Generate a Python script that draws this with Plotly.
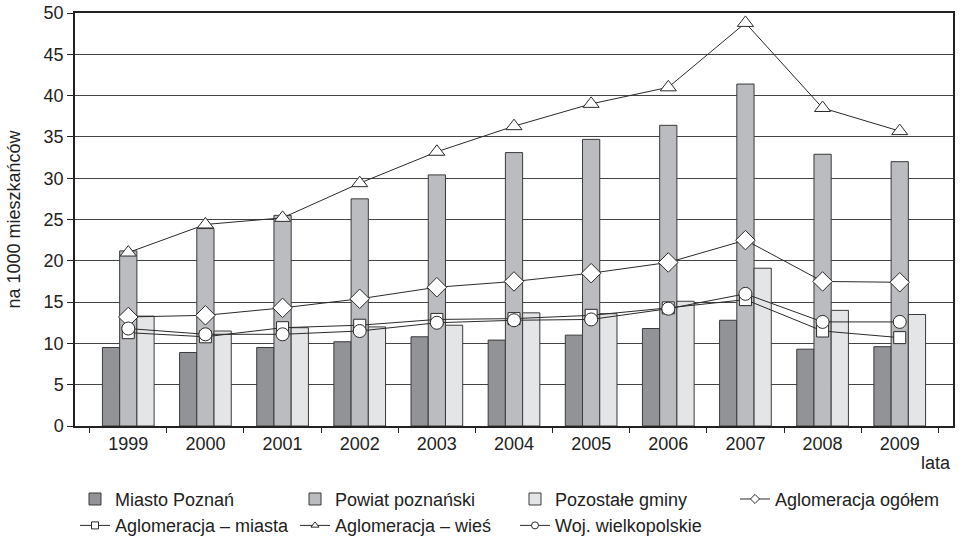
import plotly.graph_objects as go

years = ["1999", "2000", "2001", "2002", "2003", "2004", "2005", "2006", "2007", "2008", "2009"]

miasto_poznan = [9.5, 8.9, 9.5, 10.2, 10.8, 10.4, 11.0, 11.8, 12.8, 9.3, 9.6]
powiat_poznanski = [21.2, 23.9, 25.5, 27.5, 30.4, 33.1, 34.7, 36.4, 41.4, 32.9, 32.0]
pozostale_gminy = [13.3, 11.5, 11.9, 12.0, 12.2, 13.7, 13.6, 15.1, 19.1, 14.0, 13.5]

aglo_ogolem = [13.2, 13.4, 14.3, 15.4, 16.8, 17.5, 18.5, 19.8, 22.5, 17.5, 17.4]
aglo_miasta = [11.3, 10.8, 11.9, 12.2, 12.9, 13.0, 13.4, 14.3, 15.3, 11.5, 10.7]
aglo_wies = [21.0, 24.4, 25.2, 29.4, 33.2, 36.3, 39.0, 41.0, 48.8, 38.5, 35.7]
woj_wielkopolskie = [11.8, 11.1, 11.1, 11.5, 12.5, 12.8, 12.9, 14.2, 16.0, 12.6, 12.6]

FONT = "Liberation Sans, Arial, sans-serif"
EDGE = "#3a3a3a"
LINE = "#2a2a2a"

fig = go.Figure()

bar_series = [
    ("Miasto Poznań", miasto_poznan, "#929397"),
    ("Powiat poznański", powiat_poznanski, "#bbbcc0"),
    ("Pozostałe gminy", pozostale_gminy, "#e4e5e7"),
]
for name, vals, col in bar_series:
    fig.add_trace(go.Bar(
        x=years, y=vals, name=name,
        marker=dict(color=col, line=dict(color=EDGE, width=1)),
    ))

line_series = [
    ("Aglomeracja ogółem", aglo_ogolem, "diamond", 15),
    ("Aglomeracja – miasta", aglo_miasta, "square", 12),
    ("Aglomeracja – wieś", aglo_wies, "triangle-up", 14),
    ("Woj. wielkopolskie", woj_wielkopolskie, "circle", 13),
]
for name, vals, sym, sz in line_series:
    fig.add_trace(go.Scatter(
        x=years, y=vals, name=name, mode="lines+markers", showlegend=False,
        line=dict(color=LINE, width=1),
        marker=dict(symbol=sym, size=sz, color="white", line=dict(color=LINE, width=1)),
    ))
# legend-only entries with smaller symbols (as in the reference legend)
for name, vals, sym, sz in line_series:
    fig.add_trace(go.Scatter(
        x=[None], y=[None], name=name, mode="lines+markers", showlegend=True,
        line=dict(color=LINE, width=1),
        marker=dict(symbol=sym, size=7, color="white", line=dict(color=LINE, width=1)),
    ))

fig.update_layout(
    width=964, height=536,
    margin=dict(l=75, r=11, t=13, b=110),
    paper_bgcolor="white", plot_bgcolor="white",
    font=dict(family=FONT, size=18, color="#222222"),
    barmode="group", bargap=0.33, bargroupgap=0,
    showlegend=True,
    legend=dict(
        orientation="h", x=0.0, xanchor="left",
        yref="container", y=0.103, yanchor="top",
        font=dict(size=18, family=FONT, color="#222222"),
        entrywidth=175, entrywidthmode="pixels",
        traceorder="normal", tracegroupgap=0,
    ),
    annotations=[dict(
        text="lata", xref="paper", yref="paper", x=1.0, y=-0.06,
        xanchor="right", yanchor="top", showarrow=False,
        font=dict(size=18, family=FONT, color="#222222"),
    )],
)

fig.update_xaxes(
    type="category", showgrid=False, showline=True, linecolor="#222222", linewidth=2,
    mirror=True, ticks="outside", tickson="boundaries", ticklen=5, tickcolor="#222222",
    tickfont=dict(size=18), automargin=False,
)
fig.update_yaxes(
    range=[0, 50], dtick=5, showgrid=True, gridcolor="#444444", gridwidth=1,
    showline=True, linecolor="#222222", linewidth=1.5, mirror=True,
    ticks="outside", ticklen=6, tickcolor="#222222", tickfont=dict(size=18),
    zeroline=False, automargin=False,
    title=dict(text="na 1000 mieszkańców", font=dict(size=18), standoff=18),
)

fig.write_html(
    "out.html",
    config={"displayModeBar": False},
    post_script="document.body.style.margin='0';document.body.style.overflow='hidden';",
)
